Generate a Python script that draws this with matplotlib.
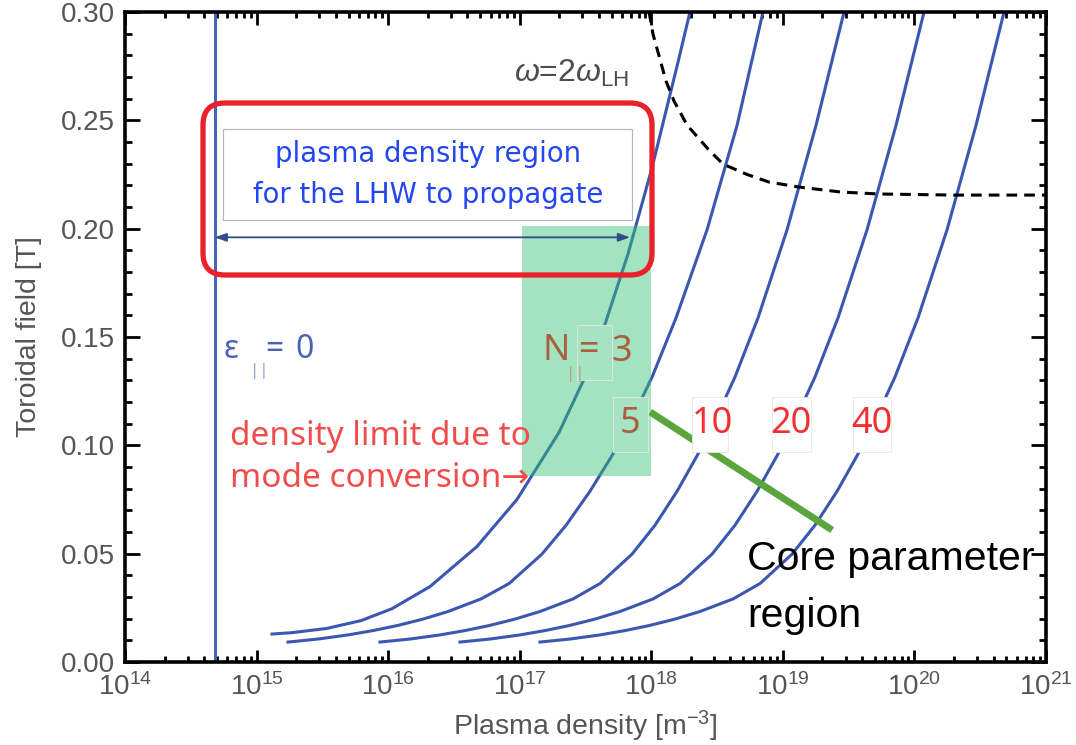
import numpy as np
import matplotlib
matplotlib.use("Agg")
import matplotlib.pyplot as plt
import matplotlib.transforms as mtransforms
from matplotlib.patches import Rectangle, FancyBboxPatch
from matplotlib.ticker import (FixedLocator, LogLocator, LogFormatterSciNotation,
                               MultipleLocator, FormatStrFormatter, NullFormatter)

plt.rcParams['font.family'] = ['Liberation Sans', 'DejaVu Sans']
plt.rcParams['mathtext.fontset'] = 'custom'
plt.rcParams['mathtext.rm'] = 'Liberation Sans'
plt.rcParams['mathtext.it'] = 'Liberation Sans:italic'

# ---------------- data ----------------
# toroidal field (T) at which the N_par = 5, 10, 20, 40 curves are sampled
field_levels = [0.0092, 0.0106, 0.0125, 0.0145, 0.0169, 0.0198, 0.0233, 0.0291,
                0.0362, 0.0498, 0.0631, 0.0788, 0.0952, 0.1085, 0.1315, 0.1588,
                0.1995, 0.2477, 0.300]
# log10 plasma density (m^-3) of each curve at those field levels
logn_N5 = [15.239, 15.467, 15.695, 15.885, 16.075, 16.265, 16.455, 16.706,
           16.919, 17.169, 17.352, 17.534, 17.701, 17.823, 18.006, 18.188,
           18.424, 18.652, 18.849]
logn_N10 = [15.938, 16.166, 16.394, 16.584, 16.774, 16.964, 17.154, 17.405,
            17.610, 17.854, 18.028, 18.196, 18.348, 18.462, 18.636, 18.811,
            19.032, 19.252, 19.465]
logn_N20 = [16.546, 16.774, 17.002, 17.192, 17.382, 17.572, 17.762, 18.013,
            18.218, 18.462, 18.636, 18.804, 18.956, 19.070, 19.244, 19.419,
            19.640, 19.860, 20.073]
logn_N40 = [17.154, 17.382, 17.610, 17.800, 17.990, 18.180, 18.370, 18.621,
            18.826, 19.070, 19.244, 19.412, 19.564, 19.678, 19.852, 20.027,
            20.248, 20.468, 20.681]

# N_par = 3 curve
logn_N3 = [15.117, 15.262, 15.535, 15.794, 16.029, 16.318, 16.675, 16.979,
           17.299, 17.481, 17.648, 17.823, 18.006, 18.203, 18.294]
field_N3 = [0.0129, 0.0135, 0.0155, 0.0191, 0.0246, 0.0348, 0.0533, 0.0750,
            0.1060, 0.1295, 0.1559, 0.1883, 0.2282, 0.2768, 0.300]

# omega = 2 omega_LH boundary
logn_2lh = [17.983, 18.013, 18.112, 18.173, 18.272, 18.431, 18.545, 18.720,
            18.895, 19.123, 19.442, 19.731, 20.308, 21.0]
field_2lh = [0.300, 0.2898, 0.2681, 0.2589, 0.2478, 0.2368, 0.2298, 0.2252,
             0.2215, 0.2192, 0.2169, 0.2160, 0.2155, 0.2155]

# epsilon_par = 0 cutoff density
eps_density = 4.8e14

# propagation window arrow
arrow_density = [4.8e14, 6.9e17]
arrow_field = 0.196

# mode-conversion limited region
region_density = [1.04e17, 1.0e18]
region_field = [0.086, 0.201]

# core parameter line
core_density = [9.8e17, 2.37e19]
core_field = [0.1154, 0.0609]

x_ticks = [1e14, 1e15, 1e16, 1e17, 1e18, 1e19, 1e20, 1e21]
y_ticks = [0.00, 0.05, 0.10, 0.15, 0.20, 0.25, 0.30]

# ---------------- figure ----------------
W, H = 1076, 745
fig = plt.figure(figsize=(W / 100, H / 100), dpi=100)
ax = fig.add_axes([125 / W, 1 - 662 / H, 921 / W, 650 / H])
# pixel coordinates measured from the top-left corner of the canvas
PX = mtransforms.Affine2D().scale(1 / W, -1 / H).translate(0, 1) + fig.transFigure

blue = '#3B57B0'
for logn in (logn_N5, logn_N10, logn_N20, logn_N40):
    ax.plot(10 ** np.array(logn), field_levels, color=blue, lw=2.2, zorder=2,
            solid_joinstyle='round')
ax.plot(10 ** np.array(logn_N3), field_N3, color=blue, lw=2.2, zorder=2,
        solid_joinstyle='round')
ax.axvline(eps_density, color='#4666BE', lw=2.2, zorder=2)
ax.plot(10 ** np.array(logn_2lh), field_2lh, color='black', lw=2.2,
        linestyle=(0, (3.5, 2.3)), zorder=2)

# shaded region
ax.add_patch(Rectangle((region_density[0], region_field[0]),
                       region_density[1] - region_density[0],
                       region_field[1] - region_field[0],
                       facecolor='#33C375', alpha=0.45, lw=0, zorder=3))

# propagation window arrow
ax.annotate('', xy=(arrow_density[1], arrow_field), xytext=(arrow_density[0], arrow_field),
            arrowprops=dict(arrowstyle='<|-|>,head_length=0.7,head_width=0.25',
                            color='#2F4C8C', lw=1.3, shrinkA=0, shrinkB=0), zorder=4)

# core parameter line
ax.plot(core_density, core_field, color='#5AA63D', lw=5, solid_capstyle='butt', zorder=5)

# axes styling
ax.set_xscale('log')
ax.set_xlim(x_ticks[0], x_ticks[-1])
ax.set_ylim(y_ticks[0], y_ticks[-1])
ax.set_yticks(y_ticks)
ax.yaxis.set_major_formatter(FormatStrFormatter('%.2f'))
ax.yaxis.set_minor_locator(MultipleLocator(0.01))
ax.xaxis.set_major_locator(FixedLocator(x_ticks))
ax.xaxis.set_major_formatter(LogFormatterSciNotation())
ax.xaxis.set_minor_locator(LogLocator(base=10, subs=np.arange(2, 10), numticks=100))
ax.xaxis.set_minor_formatter(NullFormatter())
for s in ax.spines.values():
    s.set_linewidth(2.6)
ax.tick_params(which='both', direction='in', top=True, right=True, width=2,
               color='black', labelcolor='#555555', labelsize=20)
ax.tick_params(axis='y', which='major', length=11, pad=7)
ax.tick_params(axis='y', which='minor', length=5)
ax.tick_params(axis='x', which='major', length=9, pad=8)
ax.tick_params(axis='x', which='minor', length=4)
ax.set_xlabel('Plasma density [m$^{-3}$]', fontsize=20.5, color='#555555', labelpad=6)
ax.set_ylabel('Toroidal field [T]', fontsize=20.5, color='#555555', labelpad=14)

# red frame and caption box
fig.patches.append(FancyBboxPatch((203, 103), 449, 172,
                                  boxstyle='round,pad=0,rounding_size=22',
                                  transform=PX, fill=False, ec='#E8212B', lw=3.8, zorder=6))
fig.patches.append(Rectangle((223, 129), 409, 91, transform=PX, fc='white',
                             ec='#B5B5B5', lw=0.8, zorder=6))
fig.text(428, 162, 'plasma density region', transform=PX, ha='center', va='baseline',
         fontsize=19.8, color='#2346F0', family='DejaVu Sans', zorder=7)
fig.text(428, 203, 'for the LHW to propagate', transform=PX, ha='center', va='baseline',
         fontsize=19.8, color='#2346F0', family='DejaVu Sans', zorder=7)

# label boxes over the curves
green_box = '#A5E3C3'
for (x0, y0, x1, y1, fc) in [(577, 325, 612, 380, green_box),
                             (613, 397, 648, 452, green_box),
                             (692, 397, 728, 452, 'white'),
                             (772, 397, 811, 452, 'white'),
                             (853, 397, 891, 452, 'white')]:
    fig.patches.append(Rectangle((x0, y0), x1 - x0, y1 - y0, transform=PX, fc=fc,
                                 ec='#E6E6E6', lw=0.6, zorder=6))

brown = '#A8603F'
fig.text(542, 360, 'N', transform=PX, fontsize=26, color=brown, family='Noto Sans', zorder=7)
fig.text(566, 378, '||', transform=PX, fontsize=12, color='#C49A85', family='Noto Sans', zorder=7)
fig.text(579, 360, '=', transform=PX, fontsize=26, color=brown, family='Noto Sans', zorder=7)
fig.text(611, 361, '3', transform=PX, fontsize=26, color=brown, family='Noto Sans', zorder=7)
fig.text(630, 424, '5', transform=PX, ha='center', va='center', fontsize=26, color=brown,
         family='Noto Sans', zorder=7)
for x, lab in [(712, '10'), (791, '20'), (872, '40')]:
    fig.text(x, 424, lab, transform=PX, ha='center', va='center', fontsize=26,
             color='#F23030', family='Noto Sans', zorder=7)

# epsilon_par = 0 label
eps_c = '#4A64B4'
fig.text(224, 358, 'ε', transform=PX, fontsize=23, color=eps_c, family='Noto Sans', zorder=7)
fig.text(250, 375, '||', transform=PX, fontsize=12, color='#8EA2DA', family='Noto Sans', zorder=7)
fig.text(265, 358, '=', transform=PX, fontsize=23, color=eps_c, family='Noto Sans', zorder=7)
fig.text(295, 358, '0', transform=PX, fontsize=23, color=eps_c, family='Noto Sans', zorder=7)

# mode conversion note
note_font = ['Noto Sans', 'DejaVu Sans']
fig.text(230, 445, 'density limit due to', transform=PX, fontsize=24, color='#F24B4B',
         family=note_font, zorder=7)
fig.text(230, 487, 'mode conversion\u2192', transform=PX, fontsize=24, color='#F24B4B',
         family=note_font, zorder=7)

# lower-hybrid label
fig.text(514, 82, r'$\omega$=2$\omega_{\mathrm{LH}}$', transform=PX, fontsize=23,
         color='#4D4D4D', zorder=7)

# core parameter note
fig.text(747, 570, 'Core parameter', transform=PX, fontsize=29.5, color='black', zorder=7)
fig.text(747, 627, 'region', transform=PX, fontsize=29.5, color='black', zorder=7)

fig.savefig('out.png', dpi=100)
